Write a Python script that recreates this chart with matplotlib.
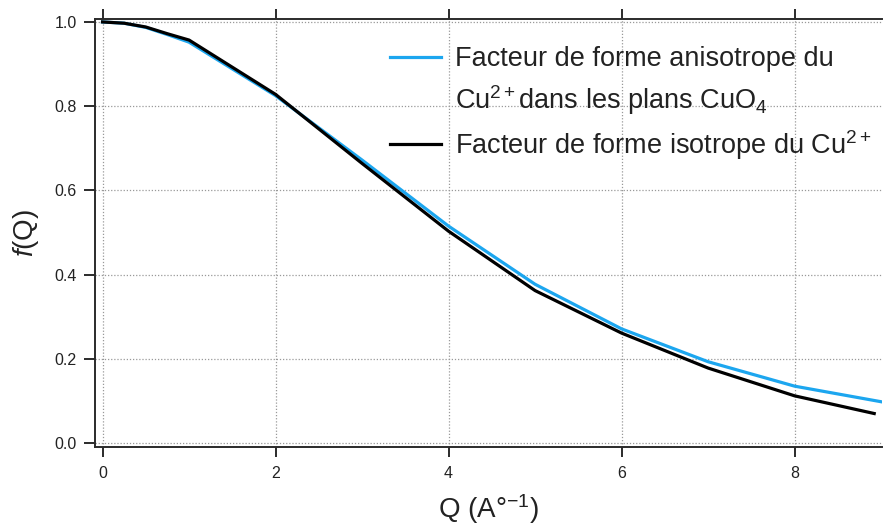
import matplotlib
matplotlib.use("Agg")
import matplotlib.pyplot as plt
from matplotlib.lines import Line2D

plt.rcParams['font.family'] = ['Liberation Sans', 'DejaVu Sans']
plt.rcParams['mathtext.fontset'] = 'custom'
plt.rcParams['mathtext.rm'] = 'Liberation Sans'
plt.rcParams['mathtext.it'] = 'Liberation Sans:italic'
plt.rcParams['mathtext.bf'] = 'Liberation Sans:bold'

# Data
q_aniso = [0, 0.25, 0.5, 0.75, 1, 2, 3, 4, 5, 6, 7, 8, 9]
f_aniso = [1.0, 0.997, 0.987, 0.970, 0.952, 0.825, 0.672, 0.515, 0.377, 0.271, 0.193, 0.135, 0.098]
q_iso = [0, 0.25, 0.5, 0.75, 1, 2, 3, 4, 5, 6, 7, 8, 8.92]
f_iso = [1.0, 0.997, 0.988, 0.972, 0.957, 0.828, 0.664, 0.503, 0.362, 0.261, 0.178, 0.112, 0.070]
xticks = [0, 2, 4, 6, 8]
yticks = [0.0, 0.2, 0.4, 0.6, 0.8, 1.0]

label_aniso_1 = "Facteur de forme anisotrope du"
label_aniso_2 = "Cu$^{2+}$dans les plans CuO$_4$"
label_iso = "Facteur de forme isotrope du Cu$^{2+}$"

blue = '#1ca6ef'
dark = '#2b2b2b'
textc = '#222222'

fig = plt.figure(figsize=(8.83, 5.29), dpi=100)
ax = fig.add_axes([95/883, 1 - 447/529, 787/883, (447 - 19)/529])

ax.plot(q_aniso, f_aniso, color=blue, lw=2.3, solid_joinstyle='round', zorder=3)
ax.plot(q_iso, f_iso, color='black', lw=2.3, solid_joinstyle='round', zorder=4)

ax.set_xlim(-0.087, 9.01)
ax.set_ylim(-0.0095, 1.007)
ax.set_xticks(xticks)
ax.set_yticks(yticks)
ax.set_xticklabels([str(v) for v in xticks])
ax.set_yticklabels([f"{v:.1f}" for v in yticks])

ax.grid(True, color='#999999', linestyle=(0, (1, 1.5)), linewidth=0.9)

for s in ['left', 'bottom', 'top']:
    ax.spines[s].set_color(dark)
    ax.spines[s].set_linewidth(1.4)
ax.spines['right'].set_visible(False)

ax.tick_params(axis='both', direction='out', color=dark, width=1.4, labelcolor=textc,
               labelsize=11.5)
ax.tick_params(axis='x', top=True, labeltop=False, length=7, pad=7)
ax.tick_params(axis='y', length=8, pad=5)

ax.set_xlabel("Q (A°$^{-1}$)", fontsize=20, labelpad=8, color=textc)
ax.set_ylabel("$f$(Q)", fontsize=20, labelpad=10, color=textc)

handles = [Line2D([], [], color=blue, lw=2.3),
           Line2D([], [], color='none', lw=0),
           Line2D([], [], color='black', lw=2.3)]
labels = [label_aniso_1, label_aniso_2, label_iso]
leg = ax.legend(handles, labels, loc='upper left', bbox_to_anchor=(0.375, 0.936),
                frameon=False, fontsize=19.5, handlelength=1.88, handletextpad=0.52,
                labelspacing=0.4, borderpad=0, borderaxespad=0, labelcolor=textc)
leg.set_zorder(5)

fig.savefig("out.png", dpi=100)
